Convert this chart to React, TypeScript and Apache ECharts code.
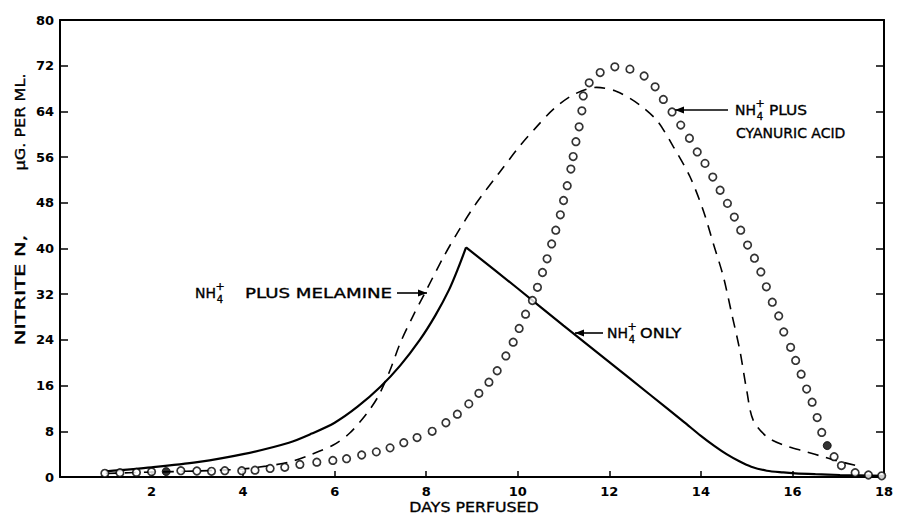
import React, { useEffect, useRef } from "react";
import * as echarts from "echarts";

// ---- Data ----
// NH4+ only (solid line): rising branch and falling branch (sharp peak)
const onlyRiseX = [1.0, 2.0, 3.0, 4.0, 5.0, 5.5, 6.0, 6.5, 7.0, 7.43, 7.86, 8.2, 8.5, 8.7, 8.87];
const onlyRiseY = [1.0, 1.7, 2.6, 4.0, 6.0, 7.6, 9.5, 12.3, 15.8, 19.5, 24.0, 28.3, 32.8, 36.6, 40.2];
const onlyFallX = [8.87, 10.0, 11.0, 12.0, 12.89, 13.62, 14.0, 14.3, 14.56, 14.85, 15.1, 15.44, 15.8, 16.06, 16.5, 17.04, 18.0];
const onlyFallY = [40.2, 33.0, 26.5, 20.1, 14.4, 9.7, 7.2, 5.4, 4.0, 2.7, 1.8, 1.1, 0.8, 0.65, 0.5, 0.35, 0.2];

// NH4+ plus melamine (dashed line)
const melX = [1.0, 1.5, 2.0, 2.5, 3.0, 3.5, 4.0, 4.5, 5.0, 5.46, 5.97, 6.33, 6.7, 6.95, 7.2, 7.43, 7.7, 7.97, 8.37, 8.7, 9.1, 9.6, 10.05, 10.4, 10.78, 11.21, 11.72, 12.16, 12.67, 13.05, 13.4, 13.76, 14.05, 14.27, 14.49, 14.67, 14.85, 15.0, 15.14, 15.44, 15.8, 16.31, 16.67, 17.04, 17.4];
const melY = [0.6, 0.75, 0.85, 0.95, 1.05, 1.2, 1.4, 1.9, 2.6, 3.85, 5.6, 7.7, 11.1, 14.1, 18.5, 23.4, 28.0, 32.2, 38.4, 43.0, 48.0, 53.3, 58.0, 61.2, 64.4, 66.9, 68.2, 67.5, 65.1, 62.3, 57.8, 52.6, 46.7, 40.9, 35.1, 28.7, 22.2, 15.2, 10.0, 7.05, 5.6, 4.4, 3.55, 2.7, 2.0];

// NH4+ plus cyanuric acid (open circles)
const cyaX = [0.98, 1.31, 1.67, 2.0, 2.64, 2.99, 3.31, 3.6, 3.97, 4.26, 4.59, 4.91, 5.24, 5.61, 5.96, 6.26, 6.59, 6.91, 7.21, 7.51, 7.8, 8.13, 8.43, 8.68, 8.93, 9.15, 9.37, 9.55, 9.74, 9.9, 10.03, 10.17, 10.32, 10.43, 10.54, 10.64, 10.74, 10.83, 10.93, 11.0, 11.08, 11.16, 11.21, 11.27, 11.34, 11.4, 11.43, 11.56, 11.8, 12.12, 12.45, 12.76, 13.0, 13.18, 13.37, 13.56, 13.75, 13.92, 14.09, 14.26, 14.42, 14.58, 14.73, 14.87, 15.02, 15.17, 15.31, 15.43, 15.56, 15.7, 15.81, 15.96, 16.07, 16.19, 16.31, 16.43, 16.54, 16.64, 16.91, 17.07, 17.37, 17.66, 17.95];
const cyaY = [0.65, 0.75, 0.8, 0.9, 1.1, 1.05, 1.0, 1.1, 1.1, 1.2, 1.5, 1.7, 2.2, 2.6, 2.9, 3.2, 3.85, 4.4, 5.1, 6.0, 6.9, 8.0, 9.5, 11.0, 12.8, 14.65, 16.6, 18.6, 21.2, 23.6, 26.0, 28.5, 30.9, 33.2, 35.8, 38.2, 40.8, 43.2, 45.9, 48.4, 51.0, 53.9, 56.1, 58.7, 61.3, 64.1, 66.7, 69.0, 70.8, 71.8, 71.4, 70.2, 68.3, 66.1, 63.9, 61.6, 59.3, 56.9, 54.9, 52.5, 50.2, 47.9, 45.5, 43.2, 40.6, 38.3, 35.9, 33.3, 30.6, 28.2, 25.4, 22.7, 20.4, 18.0, 15.4, 13.1, 10.4, 7.8, 3.55, 2.0, 0.75, 0.35, 0.2];
// the two filled (solid black) circles of that series
const cyaFilledX = [2.32, 16.76];
const cyaFilledY = [0.95, 5.5];

// Axis ticks
const xMin = 0, xMax = 18, xStep = 2;
const yMin = 0, yMax = 80, yStep = 8;

const zip = (xs: number[], ys: number[]) => xs.map((x, i) => [x, ys[i]]);

const FONT = "DejaVu Sans";

function txt(text: string, x: number, y: number, size: number, extra: any = {}) {
  return {
    type: "text",
    x,
    y,
    scaleX: extra.scaleX ?? 1,
    rotation: extra.rotation ?? 0,
    style: {
      text,
      fill: "#000",
      fontFamily: FONT,
      fontSize: size,
      fontWeight: extra.weight ?? "normal",
      align: extra.align ?? "left",
      verticalAlign: "middle",
      stroke: "#000",
      lineWidth: 0.35,
    },
  };
}

function nh4(x: number, y: number) {
  return [
    txt("NH", x, y, 14, { scaleX: 1.0 }),
    txt("+", x + 25, y - 7, 11, { align: "center" }),
    txt("4", x + 25, y + 6, 10, { align: "center" }),
  ];
}

function arrow(x1: number, x2: number, y: number, dir: "left" | "right") {
  const tip = dir === "right" ? x2 : x1;
  const back = dir === "right" ? tip - 9 : tip + 9;
  return [
    { type: "line", shape: { x1, y1: y, x2, y2: y }, style: { stroke: "#000", lineWidth: 1.6 } },
    { type: "polygon", shape: { points: [[tip, y], [back, y - 3.5], [back, y + 3.5]] }, style: { fill: "#000" } },
  ];
}

export default function App() {
  const ref = useRef<HTMLDivElement>(null);
  useEffect(() => {
    if (!ref.current) return;
    const chart = echarts.init(ref.current, null, { renderer: "svg" });
    const axisLabelStyle = { color: "#000", fontFamily: FONT, fontSize: 13, fontWeight: "bold" as const };
    const option: any = {
      animation: false,
      backgroundColor: "#fff",
      grid: { left: 60, right: 13, top: 20, bottom: 40 },
      xAxis: [
        {
          type: "value",
          min: xMin,
          max: xMax,
          interval: xStep,
          position: "bottom",
          axisLine: { show: true, lineStyle: { color: "#000", width: 2 } },
          axisTick: { show: true, inside: true, length: 6, lineStyle: { color: "#000", width: 1.5 } },
          axisLabel: { ...axisLabelStyle, margin: 8, formatter: (v: number) => (v === 0 ? "" : String(v)) },
          splitLine: { show: false },
        },
        {
          type: "value",
          min: xMin,
          max: xMax,
          interval: xStep,
          position: "top",
          axisLine: { show: true, onZero: false, lineStyle: { color: "#000", width: 2 } },
          axisTick: { show: false },
          axisLabel: { show: false },
          splitLine: { show: false },
        },
      ],
      yAxis: [
        {
          type: "value",
          min: yMin,
          max: yMax,
          interval: yStep,
          position: "left",
          axisLine: { show: true, lineStyle: { color: "#000", width: 2 } },
          axisTick: { show: true, inside: true, length: 8, lineStyle: { color: "#000", width: 1.5 } },
          axisLabel: { ...axisLabelStyle, margin: 6 },
          splitLine: { show: false },
        },
        {
          type: "value",
          min: yMin,
          max: yMax,
          interval: yStep,
          position: "right",
          axisLine: { show: true, onZero: false, lineStyle: { color: "#000", width: 2 } },
          axisTick: { show: true, inside: true, length: 8, lineStyle: { color: "#000", width: 1.5 } },
          axisLabel: { show: false },
          splitLine: { show: false },
        },
      ],
      series: [
        {
          name: "NH4+ only (rise)",
          type: "line",
          data: zip(onlyRiseX, onlyRiseY),
          smooth: 0.3,
          showSymbol: false,
          lineStyle: { color: "#000", width: 2.2 },
        },
        {
          name: "NH4+ only (fall)",
          type: "line",
          data: zip(onlyFallX, onlyFallY),
          smooth: 0.3,
          showSymbol: false,
          lineStyle: { color: "#000", width: 2.2 },
        },
        {
          name: "NH4+ plus melamine",
          type: "line",
          data: zip(melX, melY),
          smooth: 0.3,
          showSymbol: false,
          lineStyle: { color: "#000", width: 1.6, type: [11, 8] },
        },
        {
          name: "NH4+ plus cyanuric acid",
          type: "scatter",
          data: zip(cyaX, cyaY),
          symbol: "circle",
          symbolSize: 7.5,
          itemStyle: { color: "#fff", borderColor: "#000", borderWidth: 1.7 },
          z: 5,
        },
        {
          name: "NH4+ plus cyanuric acid (filled)",
          type: "scatter",
          data: zip(cyaFilledX, cyaFilledY),
          symbol: "circle",
          symbolSize: 8,
          itemStyle: { color: "#000", borderColor: "#000", borderWidth: 1 },
          z: 5,
        },
      ],
      graphic: [
        // axis titles
        txt("NITRITE N,", 20, 290, 14, { rotation: Math.PI / 2, align: "center", scaleX: 1.5 }),
        txt("\u03BCG. PER ML.", 20, 122, 14, { rotation: Math.PI / 2, align: "center", scaleX: 1.15 }),
        txt("DAYS PERFUSED", 474, 507, 14, { align: "center", scaleX: 1.13 }),
        // melamine label
        ...nh4(195, 293),
        txt("PLUS MELAMINE", 245, 293, 14, { scaleX: 1.3 }),
        ...arrow(397, 427, 293, "right"),
        // NH4+ only label
        ...nh4(607, 333),
        txt("ONLY", 640, 333, 14, { scaleX: 1.15 }),
        ...arrow(575, 603, 333, "left"),
        // cyanuric acid label
        ...nh4(735, 110),
        txt("PLUS", 769, 110, 14, { scaleX: 1.1 }),
        txt("CYANURIC ACID", 736, 133, 14, { scaleX: 1.0 }),
        ...arrow(675, 728, 110, "left"),
      ],
    };
    chart.setOption(option);
    return () => chart.dispose();
  }, []);
  return (
    <div
      ref={ref}
      style={{ position: "absolute", left: 0, top: 0, width: 897, height: 517, background: "#fff" }}
    />
  );
}
